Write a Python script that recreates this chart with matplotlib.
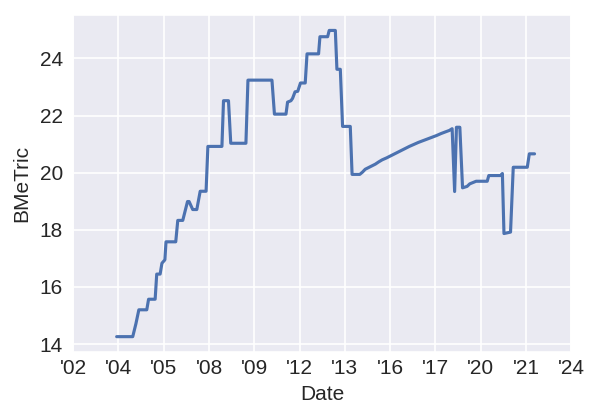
import matplotlib
matplotlib.use('Agg')
import matplotlib.pyplot as plt
import seaborn as sns

# values (decimal year, metric)
years = [2003.92, 2004.63, 2004.77, 2004.90, 2005.25, 2005.33, 2005.62, 2005.69,
         2005.84, 2005.92, 2006.05, 2006.10, 2006.53, 2006.62, 2006.84, 2007.05,
         2007.12, 2007.28, 2007.46, 2007.61, 2007.87, 2007.95, 2008.57, 2008.64,
         2008.86, 2008.96, 2009.63, 2009.72, 2010.78, 2010.89, 2011.40, 2011.47,
         2011.62, 2011.69, 2011.80, 2011.92, 2012.04, 2012.25, 2012.33, 2012.84,
         2012.90, 2013.24, 2013.31, 2013.58, 2013.65, 2013.80, 2013.90, 2014.24,
         2014.32, 2014.66, 2014.78, 2014.90, 2015.05, 2015.20, 2015.35, 2015.50,
         2015.65, 2015.85, 2016.05, 2016.25, 2016.45, 2016.65, 2016.85, 2017.05,
         2017.25, 2017.45, 2017.65, 2017.85, 2018.05, 2018.25, 2018.45, 2018.62,
         2018.74, 2018.85, 2018.93, 2019.08, 2019.20, 2019.40, 2019.52, 2019.80,
         2020.29, 2020.36, 2020.88, 2020.96, 2021.03, 2021.32, 2021.44, 2022.06,
         2022.15, 2022.38]
bmetric = [14.26, 14.26, 14.71, 15.20, 15.20, 15.57, 15.57, 16.45,
           16.45, 16.83, 16.95, 17.58, 17.58, 18.33, 18.33, 18.99,
           18.99, 18.71, 18.71, 19.35, 19.35, 20.92, 20.92, 22.52,
           22.52, 21.03, 21.03, 23.24, 23.24, 22.05, 22.05, 22.47,
           22.52, 22.60, 22.83, 22.85, 23.14, 23.14, 24.16, 24.16,
           24.76, 24.76, 24.98, 24.98, 23.62, 23.62, 21.62, 21.62,
           19.94, 19.94, 20.02, 20.12, 20.18, 20.24, 20.30, 20.38,
           20.45, 20.52, 20.60, 20.68, 20.76, 20.84, 20.92, 20.99,
           21.06, 21.12, 21.18, 21.24, 21.30, 21.37, 21.43, 21.48,
           21.54, 19.34, 21.59, 21.59, 19.47, 19.52, 19.61, 19.70,
           19.70, 19.90, 19.90, 19.97, 17.87, 17.92, 20.19, 20.19,
           20.66, 20.66]

tick_years = [2002, 2004, 2006, 2008, 2010, 2012, 2014, 2016, 2018, 2020, 2022, 2024]
tick_labels = ["'02", "'04", "'05", "'08", "'09", "'12", "'13", "'16", "'17", "'20", "'21", "'24"]

sns.set_style('darkgrid')
plt.rcParams['font.family'] = ['Liberation Sans', 'DejaVu Sans']

fig, ax = plt.subplots(figsize=(4, 2.8), dpi=150)
fig.subplots_adjust(left=0.122, right=0.952, top=0.964, bottom=0.162)

ax.plot(years, bmetric, color='#4c72b0', linewidth=1.5)
ax.set_xlim(tick_years[0], tick_years[-1])
ax.set_xticks(tick_years)
ax.set_xticklabels(tick_labels)
ax.tick_params(axis='x', length=0, pad=3.5)
ax.tick_params(axis='y', length=0, pad=5)
ax.set_xlabel('Date', labelpad=3)
ax.set_ylabel('BMeTric', labelpad=4)

fig.savefig('out.png')
